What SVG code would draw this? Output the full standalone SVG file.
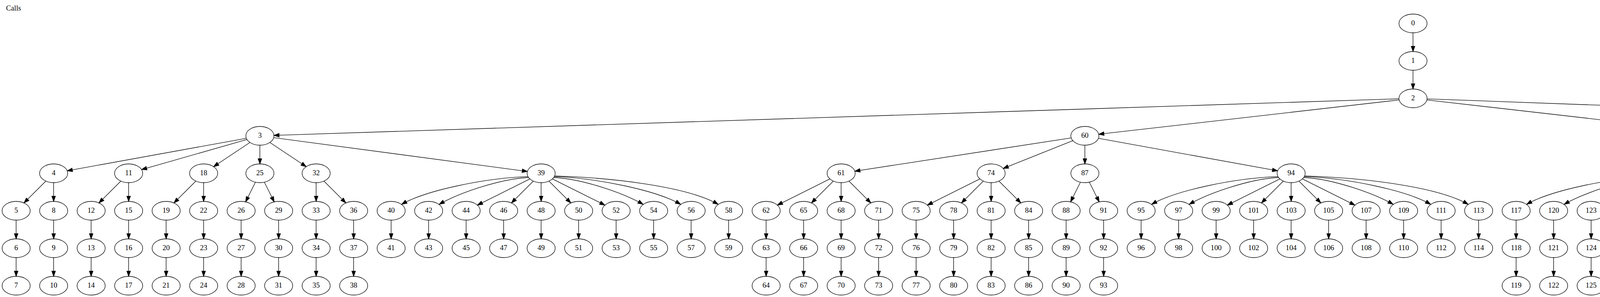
<svg xmlns="http://www.w3.org/2000/svg" width="7667" height="761" viewBox="0 0 7667 761">
<style>
.node ellipse{fill:none;stroke:#000;stroke-width:1.33}
.node text,.title{font-family:"Liberation Serif","Times New Roman",serif;font-size:18.67px;fill:#000}
.node text{text-anchor:middle}
#edges path{fill:none;stroke:#000;stroke-width:1.33;marker-end:url(#ah)}
</style>
<defs>
<marker id="ah" markerUnits="userSpaceOnUse" viewBox="-2 -2 18 14" markerWidth="18" markerHeight="14" refX="13.33" refY="5" orient="auto">
<path d="M0,0.33 L13.33,5 L0,9.67 z" fill="#000" stroke="#000" stroke-width="1.33"/>
</marker>
</defs>
<rect width="7667" height="761" fill="#fff"/>
<text class="title" x="15.5" y="27">Calls</text>
<g id="edges">
<path id="e0_1" d="M3617.33,84 L3617.33,132"/>
<path id="e1_2" d="M3617.33,180 L3617.33,228"/>
<path id="e2_3" d="M3581.37,253.17 L701.29,346.83"/>
<path id="e2_60" d="M3581.85,256.06 L2812.81,343.94"/>
<path id="e2_115" d="M3652.81,256.06 L4421.85,343.94"/>
<path id="e2_169" d="M3653.28,253.32 L6197.38,346.68"/>
<path id="e3_4" d="M630.6,354.31 L172.06,437.69"/>
<path id="e3_11" d="M632.24,357.45 L362.42,434.55"/>
<path id="e3_18" d="M639.87,364.97 L546.79,427.03"/>
<path id="e3_25" d="M665.33,372 L665.33,420"/>
<path id="e3_32" d="M690.79,364.97 L783.87,427.03"/>
<path id="e3_39" d="M700.63,352.71 L1350.03,439.29"/>
<path id="e60_61" d="M2742.25,353.4 L2188.41,438.6"/>
<path id="e60_74" d="M2746.46,360.35 L2568.2,431.65"/>
<path id="e60_87" d="M2777.33,372 L2777.33,420"/>
<path id="e60_94" d="M2812.06,354.31 L3270.6,437.69"/>
<path id="e115_116" d="M4428.53,362.4 L4294.13,429.6"/>
<path id="e115_141" d="M4486.13,362.4 L4620.53,429.6"/>
<path id="e115_148" d="M4492.71,352.42 L5189.95,439.58"/>
<path id="e169_170" d="M6233.33,372 L6233.33,420"/>
<path id="e169_201" d="M6268.89,351.74 L7109.77,440.26"/>
<path id="e4_5" d="M117.36,463.97 L61.3,520.03"/>
<path id="e4_8" d="M137.33,468 L137.33,516"/>
<path id="e11_12" d="M309.36,463.97 L253.3,520.03"/>
<path id="e11_15" d="M329.33,468 L329.33,516"/>
<path id="e18_19" d="M501.36,463.97 L445.3,520.03"/>
<path id="e18_22" d="M521.33,468 L521.33,516"/>
<path id="e25_26" d="M653.95,466.77 L628.71,517.23"/>
<path id="e25_29" d="M676.71,466.77 L701.95,517.23"/>
<path id="e32_33" d="M809.33,468 L809.33,516"/>
<path id="e32_36" d="M829.3,463.97 L885.36,520.03"/>
<path id="e39_40" d="M1351.62,452.43 C1238.47,456.69 1089.92,487.94 1028.33,523.5"/>
<path id="e39_42" d="M1353.13,454.73 C1273.05,458.86 1167.92,498.33 1124.33,523.5"/>
<path id="e39_44" d="M1356.53,458.4 L1222.13,525.6"/>
<path id="e39_46" d="M1365.36,463.97 L1309.3,520.03"/>
<path id="e39_48" d="M1385.33,468 L1385.33,516"/>
<path id="e39_50" d="M1405.3,463.97 L1461.36,520.03"/>
<path id="e39_52" d="M1414.13,458.4 L1548.53,525.6"/>
<path id="e39_54" d="M1417.53,454.73 C1497.61,458.86 1602.74,498.33 1646.33,523.5"/>
<path id="e39_56" d="M1419.04,452.43 C1532.19,456.69 1680.74,487.94 1742.33,523.5"/>
<path id="e39_58" d="M1419.81,450.9 C1566.29,455.26 1758.6,477.46 1838.33,523.5"/>
<path id="e61_62" d="M2124.53,458.4 L1990.13,525.6"/>
<path id="e61_65" d="M2133.36,463.97 L2077.3,520.03"/>
<path id="e61_68" d="M2153.33,468 L2153.33,516"/>
<path id="e61_71" d="M2173.3,463.97 L2229.36,520.03"/>
<path id="e74_75" d="M2508.53,458.4 L2374.13,525.6"/>
<path id="e74_78" d="M2517.36,463.97 L2461.3,520.03"/>
<path id="e74_81" d="M2537.33,468 L2537.33,516"/>
<path id="e74_84" d="M2557.3,463.97 L2613.36,520.03"/>
<path id="e87_88" d="M2765.95,466.77 L2740.71,517.23"/>
<path id="e87_91" d="M2788.71,466.77 L2813.95,517.23"/>
<path id="e94_95" d="M3271.62,452.43 C3158.47,456.69 3009.92,487.94 2948.33,523.5"/>
<path id="e94_97" d="M3273.13,454.73 C3193.05,458.86 3087.92,498.33 3044.33,523.5"/>
<path id="e94_99" d="M3276.53,458.4 L3142.13,525.6"/>
<path id="e94_101" d="M3285.36,463.97 L3229.3,520.03"/>
<path id="e94_103" d="M3305.33,468 L3305.33,516"/>
<path id="e94_105" d="M3325.3,463.97 L3381.36,520.03"/>
<path id="e94_107" d="M3334.13,458.4 L3468.53,525.6"/>
<path id="e94_109" d="M3337.53,454.73 C3417.61,458.86 3522.74,498.33 3566.33,523.5"/>
<path id="e94_111" d="M3339.04,452.43 C3452.19,456.69 3600.74,487.94 3662.33,523.5"/>
<path id="e94_113" d="M3339.81,450.9 C3486.29,455.26 3678.6,477.46 3758.33,523.5"/>
<path id="e116_117" d="M4231.62,452.43 C4118.47,456.69 3969.92,487.94 3908.33,523.5"/>
<path id="e116_120" d="M4233.13,454.73 C4153.05,458.86 4047.92,498.33 4004.33,523.5"/>
<path id="e116_123" d="M4236.53,458.4 L4102.13,525.6"/>
<path id="e116_126" d="M4245.36,463.97 L4189.3,520.03"/>
<path id="e116_129" d="M4265.33,468 L4265.33,516"/>
<path id="e116_132" d="M4285.3,463.97 L4341.36,520.03"/>
<path id="e116_135" d="M4294.13,458.4 L4428.53,525.6"/>
<path id="e116_138" d="M4297.53,454.73 C4377.61,458.86 4482.74,498.33 4526.33,523.5"/>
<path id="e141_142" d="M4649.33,468 L4649.33,516"/>
<path id="e141_145" d="M4669.3,463.97 L4725.36,520.03"/>
<path id="e148_149" d="M5191.62,452.43 C5078.47,456.69 4929.92,487.94 4868.33,523.5"/>
<path id="e148_151" d="M5193.13,454.73 C5113.05,458.86 5007.92,498.33 4964.33,523.5"/>
<path id="e148_153" d="M5196.53,458.4 L5062.13,525.6"/>
<path id="e148_155" d="M5205.36,463.97 L5149.3,520.03"/>
<path id="e148_157" d="M5225.33,468 L5225.33,516"/>
<path id="e148_159" d="M5245.3,463.97 L5301.36,520.03"/>
<path id="e148_161" d="M5254.13,458.4 L5388.53,525.6"/>
<path id="e148_163" d="M5257.53,454.73 C5337.61,458.86 5442.74,498.33 5486.33,523.5"/>
<path id="e148_165" d="M5259.04,452.43 C5372.19,456.69 5520.74,487.94 5582.33,523.5"/>
<path id="e148_167" d="M5259.81,450.9 C5406.29,455.26 5598.6,477.46 5678.33,523.5"/>
<path id="e170_171" d="M6199.18,451.59 C6069.38,455.9 5898.98,482.71 5828.33,523.5"/>
<path id="e170_174" d="M6200.24,453.45 C6103.67,457.65 5976.89,493.15 5924.33,523.5"/>
<path id="e170_177" d="M6202.46,456.35 C6138.71,460.38 6055.03,503.47 6020.33,523.5"/>
<path id="e170_180" d="M6207.87,460.97 L6114.79,523.03"/>
<path id="e170_183" d="M6221.95,466.77 L6196.71,517.23"/>
<path id="e170_186" d="M6244.71,466.77 L6269.95,517.23"/>
<path id="e170_189" d="M6258.79,460.97 L6351.87,523.03"/>
<path id="e170_192" d="M6264.2,456.35 C6327.95,460.38 6411.63,503.47 6446.33,523.5"/>
<path id="e170_195" d="M6266.42,453.45 C6362.99,457.65 6489.77,493.15 6542.33,523.5"/>
<path id="e170_198" d="M6267.48,451.59 C6397.28,455.9 6567.68,482.71 6638.33,523.5"/>
<path id="e201_202" d="M7111.62,452.43 C6998.47,456.69 6849.92,487.94 6788.33,523.5"/>
<path id="e201_204" d="M7113.13,454.73 C7033.05,458.86 6927.92,498.33 6884.33,523.5"/>
<path id="e201_206" d="M7116.53,458.4 L6982.13,525.6"/>
<path id="e201_208" d="M7125.36,463.97 L7069.3,520.03"/>
<path id="e201_210" d="M7145.33,468 L7145.33,516"/>
<path id="e201_212" d="M7165.3,463.97 L7221.36,520.03"/>
<path id="e201_214" d="M7174.13,458.4 L7308.53,525.6"/>
<path id="e201_216" d="M7177.53,454.73 C7257.61,458.86 7362.74,498.33 7406.33,523.5"/>
<path id="e201_218" d="M7179.04,452.43 C7292.19,456.69 7440.74,487.94 7502.33,523.5"/>
<path id="e201_220" d="M7179.81,450.9 C7326.29,455.26 7518.6,477.46 7598.33,523.5"/>
<path id="e5_6" d="M41.33,564 L41.33,612"/>
<path id="e8_9" d="M137.33,564 L137.33,612"/>
<path id="e12_13" d="M233.33,564 L233.33,612"/>
<path id="e15_16" d="M329.33,564 L329.33,612"/>
<path id="e19_20" d="M425.33,564 L425.33,612"/>
<path id="e22_23" d="M521.33,564 L521.33,612"/>
<path id="e26_27" d="M617.33,564 L617.33,612"/>
<path id="e29_30" d="M713.33,564 L713.33,612"/>
<path id="e33_34" d="M809.33,564 L809.33,612"/>
<path id="e36_37" d="M905.33,564 L905.33,612"/>
<path id="e40_41" d="M1001.33,564 L1001.33,612"/>
<path id="e42_43" d="M1097.33,564 L1097.33,612"/>
<path id="e44_45" d="M1193.33,564 L1193.33,612"/>
<path id="e46_47" d="M1289.33,564 L1289.33,612"/>
<path id="e48_49" d="M1385.33,564 L1385.33,612"/>
<path id="e50_51" d="M1481.33,564 L1481.33,612"/>
<path id="e52_53" d="M1577.33,564 L1577.33,612"/>
<path id="e54_55" d="M1673.33,564 L1673.33,612"/>
<path id="e56_57" d="M1769.33,564 L1769.33,612"/>
<path id="e58_59" d="M1865.33,564 L1865.33,612"/>
<path id="e62_63" d="M1961.33,564 L1961.33,612"/>
<path id="e65_66" d="M2057.33,564 L2057.33,612"/>
<path id="e68_69" d="M2153.33,564 L2153.33,612"/>
<path id="e71_72" d="M2249.33,564 L2249.33,612"/>
<path id="e75_76" d="M2345.33,564 L2345.33,612"/>
<path id="e78_79" d="M2441.33,564 L2441.33,612"/>
<path id="e81_82" d="M2537.33,564 L2537.33,612"/>
<path id="e84_85" d="M2633.33,564 L2633.33,612"/>
<path id="e88_89" d="M2729.33,564 L2729.33,612"/>
<path id="e91_92" d="M2825.33,564 L2825.33,612"/>
<path id="e95_96" d="M2921.33,564 L2921.33,612"/>
<path id="e97_98" d="M3017.33,564 L3017.33,612"/>
<path id="e99_100" d="M3113.33,564 L3113.33,612"/>
<path id="e101_102" d="M3209.33,564 L3209.33,612"/>
<path id="e103_104" d="M3305.33,564 L3305.33,612"/>
<path id="e105_106" d="M3401.33,564 L3401.33,612"/>
<path id="e107_108" d="M3497.33,564 L3497.33,612"/>
<path id="e109_110" d="M3593.33,564 L3593.33,612"/>
<path id="e111_112" d="M3689.33,564 L3689.33,612"/>
<path id="e113_114" d="M3785.33,564 L3785.33,612"/>
<path id="e117_118" d="M3881.33,564 L3881.33,612"/>
<path id="e120_121" d="M3977.33,564 L3977.33,612"/>
<path id="e123_124" d="M4073.33,564 L4073.33,612"/>
<path id="e126_127" d="M4169.33,564 L4169.33,612"/>
<path id="e129_130" d="M4265.33,564 L4265.33,612"/>
<path id="e132_133" d="M4361.33,564 L4361.33,612"/>
<path id="e135_136" d="M4457.33,564 L4457.33,612"/>
<path id="e138_139" d="M4553.33,564 L4553.33,612"/>
<path id="e142_143" d="M4649.33,564 L4649.33,612"/>
<path id="e145_146" d="M4745.33,564 L4745.33,612"/>
<path id="e149_150" d="M4841.33,564 L4841.33,612"/>
<path id="e151_152" d="M4937.33,564 L4937.33,612"/>
<path id="e153_154" d="M5033.33,564 L5033.33,612"/>
<path id="e155_156" d="M5129.33,564 L5129.33,612"/>
<path id="e157_158" d="M5225.33,564 L5225.33,612"/>
<path id="e159_160" d="M5321.33,564 L5321.33,612"/>
<path id="e161_162" d="M5417.33,564 L5417.33,612"/>
<path id="e163_164" d="M5513.33,564 L5513.33,612"/>
<path id="e165_166" d="M5609.33,564 L5609.33,612"/>
<path id="e167_168" d="M5705.33,564 L5705.33,612"/>
<path id="e171_172" d="M5801.33,564 L5801.33,612"/>
<path id="e174_175" d="M5897.33,564 L5897.33,612"/>
<path id="e177_178" d="M5993.33,564 L5993.33,612"/>
<path id="e180_181" d="M6089.33,564 L6089.33,612"/>
<path id="e183_184" d="M6185.33,564 L6185.33,612"/>
<path id="e186_187" d="M6281.33,564 L6281.33,612"/>
<path id="e189_190" d="M6377.33,564 L6377.33,612"/>
<path id="e192_193" d="M6473.33,564 L6473.33,612"/>
<path id="e195_196" d="M6569.33,564 L6569.33,612"/>
<path id="e198_199" d="M6665.33,564 L6665.33,612"/>
<path id="e202_203" d="M6761.33,564 L6761.33,612"/>
<path id="e204_205" d="M6857.33,564 L6857.33,612"/>
<path id="e206_207" d="M6953.33,564 L6953.33,612"/>
<path id="e208_209" d="M7049.33,564 L7049.33,612"/>
<path id="e210_211" d="M7145.33,564 L7145.33,612"/>
<path id="e212_213" d="M7241.33,564 L7241.33,612"/>
<path id="e214_215" d="M7337.33,564 L7337.33,612"/>
<path id="e216_217" d="M7433.33,564 L7433.33,612"/>
<path id="e218_219" d="M7529.33,564 L7529.33,612"/>
<path id="e220_221" d="M7625.33,564 L7625.33,612"/>
<path id="e6_7" d="M41.33,660 L41.33,708"/>
<path id="e9_10" d="M137.33,660 L137.33,708"/>
<path id="e13_14" d="M233.33,660 L233.33,708"/>
<path id="e16_17" d="M329.33,660 L329.33,708"/>
<path id="e20_21" d="M425.33,660 L425.33,708"/>
<path id="e23_24" d="M521.33,660 L521.33,708"/>
<path id="e27_28" d="M617.33,660 L617.33,708"/>
<path id="e30_31" d="M713.33,660 L713.33,708"/>
<path id="e34_35" d="M809.33,660 L809.33,708"/>
<path id="e37_38" d="M905.33,660 L905.33,708"/>
<path id="e63_64" d="M1961.33,660 L1961.33,708"/>
<path id="e66_67" d="M2057.33,660 L2057.33,708"/>
<path id="e69_70" d="M2153.33,660 L2153.33,708"/>
<path id="e72_73" d="M2249.33,660 L2249.33,708"/>
<path id="e76_77" d="M2345.33,660 L2345.33,708"/>
<path id="e79_80" d="M2441.33,660 L2441.33,708"/>
<path id="e82_83" d="M2537.33,660 L2537.33,708"/>
<path id="e85_86" d="M2633.33,660 L2633.33,708"/>
<path id="e89_90" d="M2729.33,660 L2729.33,708"/>
<path id="e92_93" d="M2825.33,660 L2825.33,708"/>
<path id="e118_119" d="M3881.33,660 L3881.33,708"/>
<path id="e121_122" d="M3977.33,660 L3977.33,708"/>
<path id="e124_125" d="M4073.33,660 L4073.33,708"/>
<path id="e127_128" d="M4169.33,660 L4169.33,708"/>
<path id="e130_131" d="M4265.33,660 L4265.33,708"/>
<path id="e133_134" d="M4361.33,660 L4361.33,708"/>
<path id="e136_137" d="M4457.33,660 L4457.33,708"/>
<path id="e139_140" d="M4553.33,660 L4553.33,708"/>
<path id="e143_144" d="M4649.33,660 L4649.33,708"/>
<path id="e146_147" d="M4745.33,660 L4745.33,708"/>
<path id="e172_173" d="M5801.33,660 L5801.33,708"/>
<path id="e175_176" d="M5897.33,660 L5897.33,708"/>
<path id="e178_179" d="M5993.33,660 L5993.33,708"/>
<path id="e181_182" d="M6089.33,660 L6089.33,708"/>
<path id="e184_185" d="M6185.33,660 L6185.33,708"/>
<path id="e187_188" d="M6281.33,660 L6281.33,708"/>
<path id="e190_191" d="M6377.33,660 L6377.33,708"/>
<path id="e193_194" d="M6473.33,660 L6473.33,708"/>
<path id="e196_197" d="M6569.33,660 L6569.33,708"/>
<path id="e199_200" d="M6665.33,660 L6665.33,708"/>
</g>
<g id="nodes">
<g id="n0" class="node" transform="translate(3617.33 60)"><ellipse rx="36" ry="24"/><text y="5">0</text></g>
<g id="n1" class="node" transform="translate(3617.33 156)"><ellipse rx="36" ry="24"/><text y="5">1</text></g>
<g id="n2" class="node" transform="translate(3617.33 252)"><ellipse rx="36" ry="24"/><text y="5">2</text></g>
<g id="n3" class="node" transform="translate(665.33 348)"><ellipse rx="36" ry="24"/><text y="5">3</text></g>
<g id="n60" class="node" transform="translate(2777.33 348)"><ellipse rx="36" ry="24"/><text y="5">60</text></g>
<g id="n115" class="node" transform="translate(4457.33 348)"><ellipse rx="36" ry="24"/><text y="5">115</text></g>
<g id="n169" class="node" transform="translate(6233.33 348)"><ellipse rx="36" ry="24"/><text y="5">169</text></g>
<g id="n4" class="node" transform="translate(137.33 444)"><ellipse rx="36" ry="24"/><text y="5">4</text></g>
<g id="n11" class="node" transform="translate(329.33 444)"><ellipse rx="36" ry="24"/><text y="5">11</text></g>
<g id="n18" class="node" transform="translate(521.33 444)"><ellipse rx="36" ry="24"/><text y="5">18</text></g>
<g id="n25" class="node" transform="translate(665.33 444)"><ellipse rx="36" ry="24"/><text y="5">25</text></g>
<g id="n32" class="node" transform="translate(809.33 444)"><ellipse rx="36" ry="24"/><text y="5">32</text></g>
<g id="n39" class="node" transform="translate(1385.33 444)"><ellipse rx="36" ry="24"/><text y="5">39</text></g>
<g id="n61" class="node" transform="translate(2153.33 444)"><ellipse rx="36" ry="24"/><text y="5">61</text></g>
<g id="n74" class="node" transform="translate(2537.33 444)"><ellipse rx="36" ry="24"/><text y="5">74</text></g>
<g id="n87" class="node" transform="translate(2777.33 444)"><ellipse rx="36" ry="24"/><text y="5">87</text></g>
<g id="n94" class="node" transform="translate(3305.33 444)"><ellipse rx="36" ry="24"/><text y="5">94</text></g>
<g id="n116" class="node" transform="translate(4265.33 444)"><ellipse rx="36" ry="24"/><text y="5">116</text></g>
<g id="n141" class="node" transform="translate(4649.33 444)"><ellipse rx="36" ry="24"/><text y="5">141</text></g>
<g id="n148" class="node" transform="translate(5225.33 444)"><ellipse rx="36" ry="24"/><text y="5">148</text></g>
<g id="n170" class="node" transform="translate(6233.33 444)"><ellipse rx="36" ry="24"/><text y="5">170</text></g>
<g id="n201" class="node" transform="translate(7145.33 444)"><ellipse rx="36" ry="24"/><text y="5">201</text></g>
<g id="n5" class="node" transform="translate(41.33 540)"><ellipse rx="36" ry="24"/><text y="5">5</text></g>
<g id="n8" class="node" transform="translate(137.33 540)"><ellipse rx="36" ry="24"/><text y="5">8</text></g>
<g id="n12" class="node" transform="translate(233.33 540)"><ellipse rx="36" ry="24"/><text y="5">12</text></g>
<g id="n15" class="node" transform="translate(329.33 540)"><ellipse rx="36" ry="24"/><text y="5">15</text></g>
<g id="n19" class="node" transform="translate(425.33 540)"><ellipse rx="36" ry="24"/><text y="5">19</text></g>
<g id="n22" class="node" transform="translate(521.33 540)"><ellipse rx="36" ry="24"/><text y="5">22</text></g>
<g id="n26" class="node" transform="translate(617.33 540)"><ellipse rx="36" ry="24"/><text y="5">26</text></g>
<g id="n29" class="node" transform="translate(713.33 540)"><ellipse rx="36" ry="24"/><text y="5">29</text></g>
<g id="n33" class="node" transform="translate(809.33 540)"><ellipse rx="36" ry="24"/><text y="5">33</text></g>
<g id="n36" class="node" transform="translate(905.33 540)"><ellipse rx="36" ry="24"/><text y="5">36</text></g>
<g id="n40" class="node" transform="translate(1001.33 540)"><ellipse rx="36" ry="24"/><text y="5">40</text></g>
<g id="n42" class="node" transform="translate(1097.33 540)"><ellipse rx="36" ry="24"/><text y="5">42</text></g>
<g id="n44" class="node" transform="translate(1193.33 540)"><ellipse rx="36" ry="24"/><text y="5">44</text></g>
<g id="n46" class="node" transform="translate(1289.33 540)"><ellipse rx="36" ry="24"/><text y="5">46</text></g>
<g id="n48" class="node" transform="translate(1385.33 540)"><ellipse rx="36" ry="24"/><text y="5">48</text></g>
<g id="n50" class="node" transform="translate(1481.33 540)"><ellipse rx="36" ry="24"/><text y="5">50</text></g>
<g id="n52" class="node" transform="translate(1577.33 540)"><ellipse rx="36" ry="24"/><text y="5">52</text></g>
<g id="n54" class="node" transform="translate(1673.33 540)"><ellipse rx="36" ry="24"/><text y="5">54</text></g>
<g id="n56" class="node" transform="translate(1769.33 540)"><ellipse rx="36" ry="24"/><text y="5">56</text></g>
<g id="n58" class="node" transform="translate(1865.33 540)"><ellipse rx="36" ry="24"/><text y="5">58</text></g>
<g id="n62" class="node" transform="translate(1961.33 540)"><ellipse rx="36" ry="24"/><text y="5">62</text></g>
<g id="n65" class="node" transform="translate(2057.33 540)"><ellipse rx="36" ry="24"/><text y="5">65</text></g>
<g id="n68" class="node" transform="translate(2153.33 540)"><ellipse rx="36" ry="24"/><text y="5">68</text></g>
<g id="n71" class="node" transform="translate(2249.33 540)"><ellipse rx="36" ry="24"/><text y="5">71</text></g>
<g id="n75" class="node" transform="translate(2345.33 540)"><ellipse rx="36" ry="24"/><text y="5">75</text></g>
<g id="n78" class="node" transform="translate(2441.33 540)"><ellipse rx="36" ry="24"/><text y="5">78</text></g>
<g id="n81" class="node" transform="translate(2537.33 540)"><ellipse rx="36" ry="24"/><text y="5">81</text></g>
<g id="n84" class="node" transform="translate(2633.33 540)"><ellipse rx="36" ry="24"/><text y="5">84</text></g>
<g id="n88" class="node" transform="translate(2729.33 540)"><ellipse rx="36" ry="24"/><text y="5">88</text></g>
<g id="n91" class="node" transform="translate(2825.33 540)"><ellipse rx="36" ry="24"/><text y="5">91</text></g>
<g id="n95" class="node" transform="translate(2921.33 540)"><ellipse rx="36" ry="24"/><text y="5">95</text></g>
<g id="n97" class="node" transform="translate(3017.33 540)"><ellipse rx="36" ry="24"/><text y="5">97</text></g>
<g id="n99" class="node" transform="translate(3113.33 540)"><ellipse rx="36" ry="24"/><text y="5">99</text></g>
<g id="n101" class="node" transform="translate(3209.33 540)"><ellipse rx="36" ry="24"/><text y="5">101</text></g>
<g id="n103" class="node" transform="translate(3305.33 540)"><ellipse rx="36" ry="24"/><text y="5">103</text></g>
<g id="n105" class="node" transform="translate(3401.33 540)"><ellipse rx="36" ry="24"/><text y="5">105</text></g>
<g id="n107" class="node" transform="translate(3497.33 540)"><ellipse rx="36" ry="24"/><text y="5">107</text></g>
<g id="n109" class="node" transform="translate(3593.33 540)"><ellipse rx="36" ry="24"/><text y="5">109</text></g>
<g id="n111" class="node" transform="translate(3689.33 540)"><ellipse rx="36" ry="24"/><text y="5">111</text></g>
<g id="n113" class="node" transform="translate(3785.33 540)"><ellipse rx="36" ry="24"/><text y="5">113</text></g>
<g id="n117" class="node" transform="translate(3881.33 540)"><ellipse rx="36" ry="24"/><text y="5">117</text></g>
<g id="n120" class="node" transform="translate(3977.33 540)"><ellipse rx="36" ry="24"/><text y="5">120</text></g>
<g id="n123" class="node" transform="translate(4073.33 540)"><ellipse rx="36" ry="24"/><text y="5">123</text></g>
<g id="n126" class="node" transform="translate(4169.33 540)"><ellipse rx="36" ry="24"/><text y="5">126</text></g>
<g id="n129" class="node" transform="translate(4265.33 540)"><ellipse rx="36" ry="24"/><text y="5">129</text></g>
<g id="n132" class="node" transform="translate(4361.33 540)"><ellipse rx="36" ry="24"/><text y="5">132</text></g>
<g id="n135" class="node" transform="translate(4457.33 540)"><ellipse rx="36" ry="24"/><text y="5">135</text></g>
<g id="n138" class="node" transform="translate(4553.33 540)"><ellipse rx="36" ry="24"/><text y="5">138</text></g>
<g id="n142" class="node" transform="translate(4649.33 540)"><ellipse rx="36" ry="24"/><text y="5">142</text></g>
<g id="n145" class="node" transform="translate(4745.33 540)"><ellipse rx="36" ry="24"/><text y="5">145</text></g>
<g id="n149" class="node" transform="translate(4841.33 540)"><ellipse rx="36" ry="24"/><text y="5">149</text></g>
<g id="n151" class="node" transform="translate(4937.33 540)"><ellipse rx="36" ry="24"/><text y="5">151</text></g>
<g id="n153" class="node" transform="translate(5033.33 540)"><ellipse rx="36" ry="24"/><text y="5">153</text></g>
<g id="n155" class="node" transform="translate(5129.33 540)"><ellipse rx="36" ry="24"/><text y="5">155</text></g>
<g id="n157" class="node" transform="translate(5225.33 540)"><ellipse rx="36" ry="24"/><text y="5">157</text></g>
<g id="n159" class="node" transform="translate(5321.33 540)"><ellipse rx="36" ry="24"/><text y="5">159</text></g>
<g id="n161" class="node" transform="translate(5417.33 540)"><ellipse rx="36" ry="24"/><text y="5">161</text></g>
<g id="n163" class="node" transform="translate(5513.33 540)"><ellipse rx="36" ry="24"/><text y="5">163</text></g>
<g id="n165" class="node" transform="translate(5609.33 540)"><ellipse rx="36" ry="24"/><text y="5">165</text></g>
<g id="n167" class="node" transform="translate(5705.33 540)"><ellipse rx="36" ry="24"/><text y="5">167</text></g>
<g id="n171" class="node" transform="translate(5801.33 540)"><ellipse rx="36" ry="24"/><text y="5">171</text></g>
<g id="n174" class="node" transform="translate(5897.33 540)"><ellipse rx="36" ry="24"/><text y="5">174</text></g>
<g id="n177" class="node" transform="translate(5993.33 540)"><ellipse rx="36" ry="24"/><text y="5">177</text></g>
<g id="n180" class="node" transform="translate(6089.33 540)"><ellipse rx="36" ry="24"/><text y="5">180</text></g>
<g id="n183" class="node" transform="translate(6185.33 540)"><ellipse rx="36" ry="24"/><text y="5">183</text></g>
<g id="n186" class="node" transform="translate(6281.33 540)"><ellipse rx="36" ry="24"/><text y="5">186</text></g>
<g id="n189" class="node" transform="translate(6377.33 540)"><ellipse rx="36" ry="24"/><text y="5">189</text></g>
<g id="n192" class="node" transform="translate(6473.33 540)"><ellipse rx="36" ry="24"/><text y="5">192</text></g>
<g id="n195" class="node" transform="translate(6569.33 540)"><ellipse rx="36" ry="24"/><text y="5">195</text></g>
<g id="n198" class="node" transform="translate(6665.33 540)"><ellipse rx="36" ry="24"/><text y="5">198</text></g>
<g id="n202" class="node" transform="translate(6761.33 540)"><ellipse rx="36" ry="24"/><text y="5">202</text></g>
<g id="n204" class="node" transform="translate(6857.33 540)"><ellipse rx="36" ry="24"/><text y="5">204</text></g>
<g id="n206" class="node" transform="translate(6953.33 540)"><ellipse rx="36" ry="24"/><text y="5">206</text></g>
<g id="n208" class="node" transform="translate(7049.33 540)"><ellipse rx="36" ry="24"/><text y="5">208</text></g>
<g id="n210" class="node" transform="translate(7145.33 540)"><ellipse rx="36" ry="24"/><text y="5">210</text></g>
<g id="n212" class="node" transform="translate(7241.33 540)"><ellipse rx="36" ry="24"/><text y="5">212</text></g>
<g id="n214" class="node" transform="translate(7337.33 540)"><ellipse rx="36" ry="24"/><text y="5">214</text></g>
<g id="n216" class="node" transform="translate(7433.33 540)"><ellipse rx="36" ry="24"/><text y="5">216</text></g>
<g id="n218" class="node" transform="translate(7529.33 540)"><ellipse rx="36" ry="24"/><text y="5">218</text></g>
<g id="n220" class="node" transform="translate(7625.33 540)"><ellipse rx="36" ry="24"/><text y="5">220</text></g>
<g id="n6" class="node" transform="translate(41.33 636)"><ellipse rx="36" ry="24"/><text y="5">6</text></g>
<g id="n9" class="node" transform="translate(137.33 636)"><ellipse rx="36" ry="24"/><text y="5">9</text></g>
<g id="n13" class="node" transform="translate(233.33 636)"><ellipse rx="36" ry="24"/><text y="5">13</text></g>
<g id="n16" class="node" transform="translate(329.33 636)"><ellipse rx="36" ry="24"/><text y="5">16</text></g>
<g id="n20" class="node" transform="translate(425.33 636)"><ellipse rx="36" ry="24"/><text y="5">20</text></g>
<g id="n23" class="node" transform="translate(521.33 636)"><ellipse rx="36" ry="24"/><text y="5">23</text></g>
<g id="n27" class="node" transform="translate(617.33 636)"><ellipse rx="36" ry="24"/><text y="5">27</text></g>
<g id="n30" class="node" transform="translate(713.33 636)"><ellipse rx="36" ry="24"/><text y="5">30</text></g>
<g id="n34" class="node" transform="translate(809.33 636)"><ellipse rx="36" ry="24"/><text y="5">34</text></g>
<g id="n37" class="node" transform="translate(905.33 636)"><ellipse rx="36" ry="24"/><text y="5">37</text></g>
<g id="n41" class="node" transform="translate(1001.33 636)"><ellipse rx="36" ry="24"/><text y="5">41</text></g>
<g id="n43" class="node" transform="translate(1097.33 636)"><ellipse rx="36" ry="24"/><text y="5">43</text></g>
<g id="n45" class="node" transform="translate(1193.33 636)"><ellipse rx="36" ry="24"/><text y="5">45</text></g>
<g id="n47" class="node" transform="translate(1289.33 636)"><ellipse rx="36" ry="24"/><text y="5">47</text></g>
<g id="n49" class="node" transform="translate(1385.33 636)"><ellipse rx="36" ry="24"/><text y="5">49</text></g>
<g id="n51" class="node" transform="translate(1481.33 636)"><ellipse rx="36" ry="24"/><text y="5">51</text></g>
<g id="n53" class="node" transform="translate(1577.33 636)"><ellipse rx="36" ry="24"/><text y="5">53</text></g>
<g id="n55" class="node" transform="translate(1673.33 636)"><ellipse rx="36" ry="24"/><text y="5">55</text></g>
<g id="n57" class="node" transform="translate(1769.33 636)"><ellipse rx="36" ry="24"/><text y="5">57</text></g>
<g id="n59" class="node" transform="translate(1865.33 636)"><ellipse rx="36" ry="24"/><text y="5">59</text></g>
<g id="n63" class="node" transform="translate(1961.33 636)"><ellipse rx="36" ry="24"/><text y="5">63</text></g>
<g id="n66" class="node" transform="translate(2057.33 636)"><ellipse rx="36" ry="24"/><text y="5">66</text></g>
<g id="n69" class="node" transform="translate(2153.33 636)"><ellipse rx="36" ry="24"/><text y="5">69</text></g>
<g id="n72" class="node" transform="translate(2249.33 636)"><ellipse rx="36" ry="24"/><text y="5">72</text></g>
<g id="n76" class="node" transform="translate(2345.33 636)"><ellipse rx="36" ry="24"/><text y="5">76</text></g>
<g id="n79" class="node" transform="translate(2441.33 636)"><ellipse rx="36" ry="24"/><text y="5">79</text></g>
<g id="n82" class="node" transform="translate(2537.33 636)"><ellipse rx="36" ry="24"/><text y="5">82</text></g>
<g id="n85" class="node" transform="translate(2633.33 636)"><ellipse rx="36" ry="24"/><text y="5">85</text></g>
<g id="n89" class="node" transform="translate(2729.33 636)"><ellipse rx="36" ry="24"/><text y="5">89</text></g>
<g id="n92" class="node" transform="translate(2825.33 636)"><ellipse rx="36" ry="24"/><text y="5">92</text></g>
<g id="n96" class="node" transform="translate(2921.33 636)"><ellipse rx="36" ry="24"/><text y="5">96</text></g>
<g id="n98" class="node" transform="translate(3017.33 636)"><ellipse rx="36" ry="24"/><text y="5">98</text></g>
<g id="n100" class="node" transform="translate(3113.33 636)"><ellipse rx="36" ry="24"/><text y="5">100</text></g>
<g id="n102" class="node" transform="translate(3209.33 636)"><ellipse rx="36" ry="24"/><text y="5">102</text></g>
<g id="n104" class="node" transform="translate(3305.33 636)"><ellipse rx="36" ry="24"/><text y="5">104</text></g>
<g id="n106" class="node" transform="translate(3401.33 636)"><ellipse rx="36" ry="24"/><text y="5">106</text></g>
<g id="n108" class="node" transform="translate(3497.33 636)"><ellipse rx="36" ry="24"/><text y="5">108</text></g>
<g id="n110" class="node" transform="translate(3593.33 636)"><ellipse rx="36" ry="24"/><text y="5">110</text></g>
<g id="n112" class="node" transform="translate(3689.33 636)"><ellipse rx="36" ry="24"/><text y="5">112</text></g>
<g id="n114" class="node" transform="translate(3785.33 636)"><ellipse rx="36" ry="24"/><text y="5">114</text></g>
<g id="n118" class="node" transform="translate(3881.33 636)"><ellipse rx="36" ry="24"/><text y="5">118</text></g>
<g id="n121" class="node" transform="translate(3977.33 636)"><ellipse rx="36" ry="24"/><text y="5">121</text></g>
<g id="n124" class="node" transform="translate(4073.33 636)"><ellipse rx="36" ry="24"/><text y="5">124</text></g>
<g id="n127" class="node" transform="translate(4169.33 636)"><ellipse rx="36" ry="24"/><text y="5">127</text></g>
<g id="n130" class="node" transform="translate(4265.33 636)"><ellipse rx="36" ry="24"/><text y="5">130</text></g>
<g id="n133" class="node" transform="translate(4361.33 636)"><ellipse rx="36" ry="24"/><text y="5">133</text></g>
<g id="n136" class="node" transform="translate(4457.33 636)"><ellipse rx="36" ry="24"/><text y="5">136</text></g>
<g id="n139" class="node" transform="translate(4553.33 636)"><ellipse rx="36" ry="24"/><text y="5">139</text></g>
<g id="n143" class="node" transform="translate(4649.33 636)"><ellipse rx="36" ry="24"/><text y="5">143</text></g>
<g id="n146" class="node" transform="translate(4745.33 636)"><ellipse rx="36" ry="24"/><text y="5">146</text></g>
<g id="n150" class="node" transform="translate(4841.33 636)"><ellipse rx="36" ry="24"/><text y="5">150</text></g>
<g id="n152" class="node" transform="translate(4937.33 636)"><ellipse rx="36" ry="24"/><text y="5">152</text></g>
<g id="n154" class="node" transform="translate(5033.33 636)"><ellipse rx="36" ry="24"/><text y="5">154</text></g>
<g id="n156" class="node" transform="translate(5129.33 636)"><ellipse rx="36" ry="24"/><text y="5">156</text></g>
<g id="n158" class="node" transform="translate(5225.33 636)"><ellipse rx="36" ry="24"/><text y="5">158</text></g>
<g id="n160" class="node" transform="translate(5321.33 636)"><ellipse rx="36" ry="24"/><text y="5">160</text></g>
<g id="n162" class="node" transform="translate(5417.33 636)"><ellipse rx="36" ry="24"/><text y="5">162</text></g>
<g id="n164" class="node" transform="translate(5513.33 636)"><ellipse rx="36" ry="24"/><text y="5">164</text></g>
<g id="n166" class="node" transform="translate(5609.33 636)"><ellipse rx="36" ry="24"/><text y="5">166</text></g>
<g id="n168" class="node" transform="translate(5705.33 636)"><ellipse rx="36" ry="24"/><text y="5">168</text></g>
<g id="n172" class="node" transform="translate(5801.33 636)"><ellipse rx="36" ry="24"/><text y="5">172</text></g>
<g id="n175" class="node" transform="translate(5897.33 636)"><ellipse rx="36" ry="24"/><text y="5">175</text></g>
<g id="n178" class="node" transform="translate(5993.33 636)"><ellipse rx="36" ry="24"/><text y="5">178</text></g>
<g id="n181" class="node" transform="translate(6089.33 636)"><ellipse rx="36" ry="24"/><text y="5">181</text></g>
<g id="n184" class="node" transform="translate(6185.33 636)"><ellipse rx="36" ry="24"/><text y="5">184</text></g>
<g id="n187" class="node" transform="translate(6281.33 636)"><ellipse rx="36" ry="24"/><text y="5">187</text></g>
<g id="n190" class="node" transform="translate(6377.33 636)"><ellipse rx="36" ry="24"/><text y="5">190</text></g>
<g id="n193" class="node" transform="translate(6473.33 636)"><ellipse rx="36" ry="24"/><text y="5">193</text></g>
<g id="n196" class="node" transform="translate(6569.33 636)"><ellipse rx="36" ry="24"/><text y="5">196</text></g>
<g id="n199" class="node" transform="translate(6665.33 636)"><ellipse rx="36" ry="24"/><text y="5">199</text></g>
<g id="n203" class="node" transform="translate(6761.33 636)"><ellipse rx="36" ry="24"/><text y="5">203</text></g>
<g id="n205" class="node" transform="translate(6857.33 636)"><ellipse rx="36" ry="24"/><text y="5">205</text></g>
<g id="n207" class="node" transform="translate(6953.33 636)"><ellipse rx="36" ry="24"/><text y="5">207</text></g>
<g id="n209" class="node" transform="translate(7049.33 636)"><ellipse rx="36" ry="24"/><text y="5">209</text></g>
<g id="n211" class="node" transform="translate(7145.33 636)"><ellipse rx="36" ry="24"/><text y="5">211</text></g>
<g id="n213" class="node" transform="translate(7241.33 636)"><ellipse rx="36" ry="24"/><text y="5">213</text></g>
<g id="n215" class="node" transform="translate(7337.33 636)"><ellipse rx="36" ry="24"/><text y="5">215</text></g>
<g id="n217" class="node" transform="translate(7433.33 636)"><ellipse rx="36" ry="24"/><text y="5">217</text></g>
<g id="n219" class="node" transform="translate(7529.33 636)"><ellipse rx="36" ry="24"/><text y="5">219</text></g>
<g id="n221" class="node" transform="translate(7625.33 636)"><ellipse rx="36" ry="24"/><text y="5">221</text></g>
<g id="n7" class="node" transform="translate(41.33 732)"><ellipse rx="36" ry="24"/><text y="5">7</text></g>
<g id="n10" class="node" transform="translate(137.33 732)"><ellipse rx="36" ry="24"/><text y="5">10</text></g>
<g id="n14" class="node" transform="translate(233.33 732)"><ellipse rx="36" ry="24"/><text y="5">14</text></g>
<g id="n17" class="node" transform="translate(329.33 732)"><ellipse rx="36" ry="24"/><text y="5">17</text></g>
<g id="n21" class="node" transform="translate(425.33 732)"><ellipse rx="36" ry="24"/><text y="5">21</text></g>
<g id="n24" class="node" transform="translate(521.33 732)"><ellipse rx="36" ry="24"/><text y="5">24</text></g>
<g id="n28" class="node" transform="translate(617.33 732)"><ellipse rx="36" ry="24"/><text y="5">28</text></g>
<g id="n31" class="node" transform="translate(713.33 732)"><ellipse rx="36" ry="24"/><text y="5">31</text></g>
<g id="n35" class="node" transform="translate(809.33 732)"><ellipse rx="36" ry="24"/><text y="5">35</text></g>
<g id="n38" class="node" transform="translate(905.33 732)"><ellipse rx="36" ry="24"/><text y="5">38</text></g>
<g id="n64" class="node" transform="translate(1961.33 732)"><ellipse rx="36" ry="24"/><text y="5">64</text></g>
<g id="n67" class="node" transform="translate(2057.33 732)"><ellipse rx="36" ry="24"/><text y="5">67</text></g>
<g id="n70" class="node" transform="translate(2153.33 732)"><ellipse rx="36" ry="24"/><text y="5">70</text></g>
<g id="n73" class="node" transform="translate(2249.33 732)"><ellipse rx="36" ry="24"/><text y="5">73</text></g>
<g id="n77" class="node" transform="translate(2345.33 732)"><ellipse rx="36" ry="24"/><text y="5">77</text></g>
<g id="n80" class="node" transform="translate(2441.33 732)"><ellipse rx="36" ry="24"/><text y="5">80</text></g>
<g id="n83" class="node" transform="translate(2537.33 732)"><ellipse rx="36" ry="24"/><text y="5">83</text></g>
<g id="n86" class="node" transform="translate(2633.33 732)"><ellipse rx="36" ry="24"/><text y="5">86</text></g>
<g id="n90" class="node" transform="translate(2729.33 732)"><ellipse rx="36" ry="24"/><text y="5">90</text></g>
<g id="n93" class="node" transform="translate(2825.33 732)"><ellipse rx="36" ry="24"/><text y="5">93</text></g>
<g id="n119" class="node" transform="translate(3881.33 732)"><ellipse rx="36" ry="24"/><text y="5">119</text></g>
<g id="n122" class="node" transform="translate(3977.33 732)"><ellipse rx="36" ry="24"/><text y="5">122</text></g>
<g id="n125" class="node" transform="translate(4073.33 732)"><ellipse rx="36" ry="24"/><text y="5">125</text></g>
<g id="n128" class="node" transform="translate(4169.33 732)"><ellipse rx="36" ry="24"/><text y="5">128</text></g>
<g id="n131" class="node" transform="translate(4265.33 732)"><ellipse rx="36" ry="24"/><text y="5">131</text></g>
<g id="n134" class="node" transform="translate(4361.33 732)"><ellipse rx="36" ry="24"/><text y="5">134</text></g>
<g id="n137" class="node" transform="translate(4457.33 732)"><ellipse rx="36" ry="24"/><text y="5">137</text></g>
<g id="n140" class="node" transform="translate(4553.33 732)"><ellipse rx="36" ry="24"/><text y="5">140</text></g>
<g id="n144" class="node" transform="translate(4649.33 732)"><ellipse rx="36" ry="24"/><text y="5">144</text></g>
<g id="n147" class="node" transform="translate(4745.33 732)"><ellipse rx="36" ry="24"/><text y="5">147</text></g>
<g id="n173" class="node" transform="translate(5801.33 732)"><ellipse rx="36" ry="24"/><text y="5">173</text></g>
<g id="n176" class="node" transform="translate(5897.33 732)"><ellipse rx="36" ry="24"/><text y="5">176</text></g>
<g id="n179" class="node" transform="translate(5993.33 732)"><ellipse rx="36" ry="24"/><text y="5">179</text></g>
<g id="n182" class="node" transform="translate(6089.33 732)"><ellipse rx="36" ry="24"/><text y="5">182</text></g>
<g id="n185" class="node" transform="translate(6185.33 732)"><ellipse rx="36" ry="24"/><text y="5">185</text></g>
<g id="n188" class="node" transform="translate(6281.33 732)"><ellipse rx="36" ry="24"/><text y="5">188</text></g>
<g id="n191" class="node" transform="translate(6377.33 732)"><ellipse rx="36" ry="24"/><text y="5">191</text></g>
<g id="n194" class="node" transform="translate(6473.33 732)"><ellipse rx="36" ry="24"/><text y="5">194</text></g>
<g id="n197" class="node" transform="translate(6569.33 732)"><ellipse rx="36" ry="24"/><text y="5">197</text></g>
<g id="n200" class="node" transform="translate(6665.33 732)"><ellipse rx="36" ry="24"/><text y="5">200</text></g>
</g>
</svg>
